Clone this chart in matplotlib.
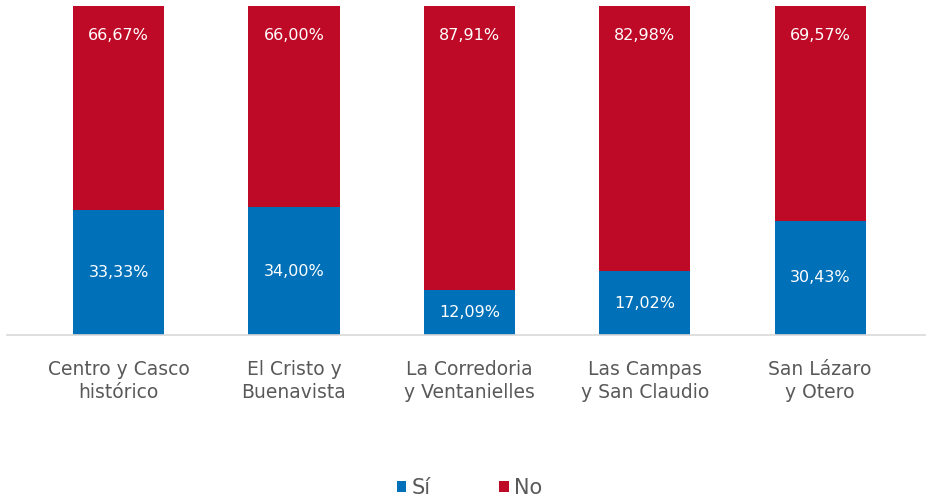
import matplotlib.pyplot as plt
import numpy as np

# data
barrios = ["Centro y Casco\nhistórico", "El Cristo y\nBuenavista",
           "La Corredoria\ny Ventanielles", "Las Campas\ny San Claudio",
           "San Lázaro\ny Otero"]
si = [33.33, 34.00, 12.09, 17.02, 30.43]
no = [66.67, 66.00, 87.91, 82.98, 69.57]

blue = "#0070B8"
red = "#BE0A26"
grey = "#595959"

plt.rcParams["font.family"] = ["DejaVu Sans"]

fig = plt.figure(figsize=(9.26, 4.99), dpi=100)
ax = fig.add_axes([7 / 926, 1 - 335 / 499, 918 / 926, 329 / 499])

ymax = 87.6  # plot area top, bars are clipped there
x = np.arange(len(barrios))
w = 0.52
b1 = ax.bar(x, si, width=w, color=blue, label="Sí")
b2 = ax.bar(x, no, width=w, bottom=si, color=red, label="No")

for i in range(len(x)):
    ax.text(x[i], si[i] / 2, "{:.2f}%".format(si[i]).replace(".", ","),
            ha="center", va="center", color="white", fontsize=11.5)
    ax.text(x[i], ymax * (1 - 30 / 329), "{:.2f}%".format(no[i]).replace(".", ","),
            ha="center", va="center", color="white", fontsize=11.5)

ax.set_xlim(-0.636, 4.598)
ax.set_ylim(0, ymax)
ax.set_xticks(x)
ax.set_xticklabels(barrios, fontsize=13.5, color=grey, linespacing=1.3)
ax.tick_params(axis="x", length=0, pad=18)
ax.set_yticks([])
for s in ["top", "right", "left"]:
    ax.spines[s].set_visible(False)
ax.spines["bottom"].set_color("#D9D9D9")
ax.spines["bottom"].set_linewidth(1.2)

fig.legend(handles=[b1, b2], loc="center", bbox_to_anchor=(0.507, 1 - 488 / 499),
           ncol=2, frameon=False, fontsize=15, handlelength=0.45, handleheight=0.45,
           handletextpad=0.25, columnspacing=3.3, labelcolor=grey)

fig.savefig("out.png", dpi=100)
